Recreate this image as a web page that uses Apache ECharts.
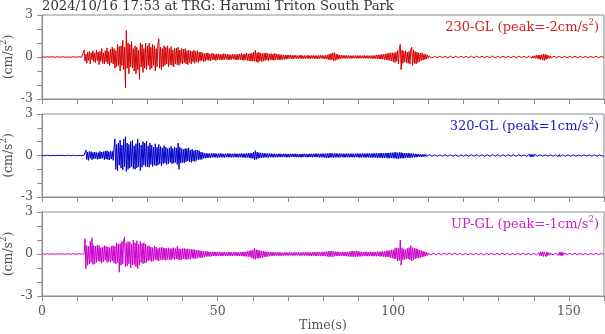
<!DOCTYPE html>
<html>
<head>
<meta charset="utf-8">
<script src="https://cdn.jsdelivr.net/npm/echarts@6/dist/echarts.min.js"></script>
<style>
html,body{margin:0;padding:0;background:#fff;}
#chart{width:605px;height:334px;}
</style>
</head>
<body>
<div id="chart"></div>
<script>
// ---- data (one value every 0.25 s; 20 values per 5 s row) ----
const sampleStep = 0.25;
const titleText = '2024/10/16 17:53 at TRG: Harumi Triton South Park';
const channelNames = ['230-GL', '320-GL', 'UP-GL'];
const channelPeaks = [-2, 1, -1];
const xTickLabels = [0, 50, 100, 150];
const yTickLabels = [-3, 0, 3];

const gl230 = [
0.02,-0.03,0.01,-0.02,0.03,-0.02,0.02,-0.03,0.02,-0.01,0.03,-0.02,0.02,-0.03,0.01,-0.02,0.03,-0.02,0.02,-0.03,
0.02,-0.02,0.03,-0.01,0.02,-0.03,0.02,-0.02,0.03,-0.02,0.01,-0.03,0.02,-0.02,0.03,-0.02,0.02,-0.01,0.03,-0.02,
0.02,-0.03,0.02,-0.02,0.03,-0.02,0.02,-0.03,0.5,-0.3,0.2,-0.45,0.35,-0.25,0.4,-0.5,0.3,-0.2,0.45,-0.35,
0.3,-0.4,0.5,-0.25,0.35,-0.55,0.4,-0.3,0.6,-0.45,0.3,-0.5,0.45,-0.35,0.65,-0.5,0.4,-0.6,0.55,-0.4,
0.7,-0.5,0.6,-0.8,0.45,-0.7,0.9,-0.6,0.75,-1.0,0.8,-0.6,1.2,-0.9,0.7,-2.2,1.9,-0.8,1.0,-1.2,
0.9,-0.7,1.1,-0.8,0.6,-1.0,0.8,-1.2,0.7,-0.9,0.5,-1.6,1.0,-0.7,0.9,-1.1,0.6,-0.8,1.0,-0.9,
0.8,-0.6,1.0,-0.9,0.7,-0.8,0.9,-0.6,0.8,-1.0,0.6,-0.7,0.9,1.3,-0.8,0.7,-0.9,0.6,-0.7,0.8,
-0.6,0.7,-0.5,0.8,-0.7,0.6,-0.55,0.75,-0.6,0.5,-0.7,0.6,-0.5,0.65,-0.55,0.7,-0.6,0.5,-0.45,0.6,
-0.5,0.55,-0.4,0.6,-0.5,0.45,-0.55,0.5,-0.4,0.45,-0.5,0.4,-0.35,0.5,-0.45,0.4,-0.35,0.45,-0.4,0.35,
-0.3,0.35,-0.25,0.3,-0.35,0.25,-0.3,0.28,-0.22,0.3,-0.25,0.22,-0.28,0.25,-0.2,0.27,-0.22,0.2,-0.25,0.22,
-0.2,0.22,-0.18,0.2,-0.22,0.18,-0.2,0.24,-0.18,0.2,-0.16,0.2,-0.22,0.18,-0.2,0.16,-0.18,0.2,-0.15,0.18,
-0.2,0.18,-0.22,0.2,-0.18,0.22,-0.2,0.25,-0.22,0.2,-0.25,0.22,-0.2,0.28,-0.25,0.22,-0.28,0.25,-0.3,0.28,
-0.3,0.35,-0.3,0.5,-0.35,0.3,-0.4,0.35,-0.3,0.28,-0.32,0.25,-0.3,0.28,-0.25,0.3,-0.22,0.25,-0.28,0.22,
-0.2,0.25,-0.22,0.2,-0.25,0.28,-0.2,0.22,-0.18,0.2,-0.22,0.18,-0.2,0.16,-0.18,0.15,-0.17,0.14,-0.16,0.15,
-0.13,0.14,-0.12,0.15,-0.13,0.12,-0.14,0.12,-0.1,0.13,-0.12,0.1,-0.13,0.12,-0.11,0.13,-0.12,0.1,-0.12,0.11,
-0.12,0.1,-0.11,0.13,-0.12,0.1,-0.12,0.11,-0.1,0.12,-0.11,0.1,-0.12,0.11,-0.13,0.1,-0.11,0.12,-0.1,0.11,
-0.12,0.11,-0.13,0.12,-0.15,0.14,-0.18,0.2,-0.22,0.25,-0.2,0.3,-0.28,0.32,-0.25,0.22,-0.2,0.18,-0.15,0.14,
-0.13,0.12,-0.11,0.12,-0.1,0.11,-0.1,0.12,-0.11,0.1,-0.09,0.1,-0.11,0.09,-0.1,0.11,-0.09,0.1,-0.11,0.1,
-0.1,0.11,-0.09,0.1,-0.11,0.1,-0.09,0.11,-0.1,0.09,-0.1,0.11,-0.1,0.09,-0.1,0.11,-0.12,0.1,-0.11,0.12,
-0.12,0.14,-0.13,0.15,-0.14,0.16,-0.15,0.18,-0.16,0.2,-0.18,0.22,-0.2,0.25,-0.22,0.28,-0.25,0.3,-0.28,0.3,
-0.35,0.3,-0.4,0.35,-0.3,0.45,-0.5,0.6,0.9,-0.9,0.5,-0.45,0.4,-0.35,0.45,-0.4,0.35,-0.45,0.4,-0.5,
0.55,0.7,-0.6,0.5,-0.45,0.4,-0.5,0.35,-0.4,0.3,-0.35,0.28,-0.25,0.3,-0.22,0.2,-0.18,0.2,-0.15,0.14,
-0.08,0.07,-0.06,0.08,-0.07,0.06,-0.07,0.05,-0.06,0.07,-0.05,0.06,-0.07,0.05,-0.06,0.06,-0.05,0.07,-0.06,0.05,
-0.06,0.05,-0.07,0.06,-0.05,0.06,-0.05,0.07,-0.06,0.05,-0.06,0.05,-0.07,0.06,-0.05,0.06,-0.05,0.06,-0.07,0.05,
-0.05,0.06,-0.05,0.05,-0.06,0.07,-0.05,0.06,-0.05,0.06,-0.07,0.05,-0.06,0.05,-0.06,0.07,-0.05,0.06,-0.05,0.06,
-0.06,0.05,-0.05,0.06,-0.05,0.06,-0.07,0.05,-0.06,0.05,-0.05,0.06,-0.05,0.07,-0.06,0.05,-0.06,0.05,-0.06,0.05,
-0.05,0.06,-0.05,0.05,-0.06,0.05,-0.05,0.06,-0.04,0.05,-0.06,0.05,-0.05,0.06,-0.05,0.04,-0.05,0.06,-0.05,0.05,
-0.05,0.04,-0.05,0.06,-0.05,0.05,-0.04,0.05,-0.06,0.05,-0.05,0.04,-0.05,0.06,-0.05,0.06,-0.07,0.06,-0.08,0.07,
-0.08,0.09,-0.1,0.12,-0.1,0.13,-0.15,0.14,-0.18,0.16,-0.2,0.22,-0.25,0.2,-0.18,0.15,-0.12,0.1,-0.09,0.08,
-0.07,0.06,-0.05,0.06,-0.05,0.04,-0.05,0.05,-0.04,0.05,-0.05,0.04,-0.05,0.05,-0.04,0.05,-0.04,0.05,-0.05,0.04,
-0.05,0.04,-0.05,0.05,-0.04,0.05,-0.04,0.05,-0.05,0.04,-0.05,0.04,-0.05,0.05,-0.04,0.05,-0.04,0.05,-0.05,0.04,
-0.04,0.05,-0.05,0.04,-0.05,0.04,-0.05,0.05,-0.04,0.05,-0.04,0.05,-0.05,0.04,-0.05,0.04,-0.05,0.05,-0.04,0.05,
-0.04
];

const gl320 = [
0.02,-0.02,0.01,-0.02,0.02,-0.01,0.02,-0.02,0.01,-0.02,0.02,-0.02,0.01,-0.02,0.02,-0.01,0.02,-0.02,0.01,-0.02,
0.02,-0.01,0.02,-0.02,0.01,-0.02,0.02,-0.02,0.01,-0.02,0.02,-0.01,0.02,-0.02,0.01,-0.02,0.02,-0.02,0.01,-0.02,
0.02,-0.02,0.01,-0.02,0.02,-0.02,0.01,-0.02,0.02,-0.02,0.4,-0.3,0.25,-0.35,0.3,-0.2,0.28,-0.3,0.22,-0.25,
0.25,-0.2,0.22,-0.28,0.2,-0.25,0.3,-0.22,0.25,-0.2,0.28,-0.3,0.32,-0.25,0.35,-0.3,0.28,-0.32,0.3,-0.25,
0.3,-0.35,0.5,1.2,-1.0,0.8,-1.1,0.9,-0.7,1.1,-0.9,0.75,-1.05,1.2,-0.8,1.35,-1.15,0.9,-1.0,0.8,
-0.9,1.0,-0.8,1.1,-0.95,0.7,-1.0,0.85,-0.9,1.2,-0.8,0.9,-1.1,0.75,-0.85,1.0,-0.7,0.9,-0.8,1.05,
-0.8,0.7,-0.85,0.9,-0.65,0.75,-0.8,0.6,-0.7,0.85,-0.75,0.6,-0.7,0.8,-0.6,0.65,-0.75,0.55,-0.6,0.7,
-0.55,0.6,-0.65,0.5,-0.6,0.55,-0.5,0.65,-0.6,0.5,-0.55,0.6,-0.5,0.55,-0.65,0.9,-1.0,0.6,-0.55,0.5,
-0.5,0.45,-0.55,0.5,-0.45,0.5,-0.4,0.55,-0.45,0.4,-0.5,0.45,-0.4,0.35,-0.45,0.4,-0.35,0.4,-0.3,0.35,
-0.3,0.25,-0.28,0.22,-0.2,0.18,-0.2,0.16,-0.18,0.15,-0.16,0.14,-0.15,0.16,-0.14,0.15,-0.13,0.15,-0.14,0.13,
-0.15,0.13,-0.14,0.15,-0.12,0.14,-0.13,0.12,-0.15,0.13,-0.12,0.14,-0.13,0.15,-0.12,0.13,-0.14,0.12,-0.13,0.14,
-0.12,0.14,-0.13,0.12,-0.14,0.13,-0.12,0.15,-0.14,0.13,-0.15,0.14,-0.16,0.15,-0.14,0.16,-0.18,0.17,-0.2,0.18,
-0.22,0.25,-0.3,0.35,-0.28,0.25,-0.22,0.2,-0.18,0.2,-0.17,0.16,-0.15,0.17,-0.14,0.15,-0.13,0.14,-0.15,0.13,
-0.12,0.14,-0.13,0.12,-0.14,0.13,-0.12,0.11,-0.13,0.12,-0.11,0.13,-0.12,0.11,-0.12,0.13,-0.11,0.12,-0.13,0.11,
-0.12,0.11,-0.13,0.12,-0.11,0.12,-0.1,0.12,-0.11,0.13,-0.12,0.11,-0.12,0.1,-0.12,0.11,-0.13,0.12,-0.11,0.12,
-0.11,0.12,-0.13,0.11,-0.12,0.13,-0.11,0.12,-0.13,0.12,-0.11,0.13,-0.12,0.14,-0.12,0.13,-0.14,0.12,-0.13,0.14,
-0.13,0.14,-0.15,0.13,-0.16,0.15,-0.18,0.16,-0.15,0.17,-0.14,0.15,-0.16,0.14,-0.13,0.15,-0.14,0.13,-0.14,0.15,
-0.13,0.14,-0.12,0.13,-0.14,0.12,-0.13,0.14,-0.12,0.13,-0.14,0.13,-0.12,0.14,-0.13,0.12,-0.14,0.13,-0.12,0.14,
-0.13,0.14,-0.15,0.13,-0.14,0.15,-0.13,0.14,-0.15,0.14,-0.13,0.15,-0.14,0.16,-0.15,0.14,-0.16,0.15,-0.14,0.16,
-0.15,0.16,-0.17,0.15,-0.16,0.18,-0.16,0.17,-0.18,0.16,-0.17,0.18,-0.16,0.18,-0.2,0.18,-0.19,0.2,-0.18,0.2,
-0.2,0.22,-0.2,0.24,-0.22,0.2,-0.25,0.22,-0.2,0.22,-0.2,0.18,-0.2,0.18,-0.17,0.18,-0.16,0.18,-0.17,0.15,
-0.16,0.15,-0.14,0.15,-0.13,0.12,-0.13,0.11,-0.1,0.11,-0.1,0.09,-0.1,0.08,-0.09,0.08,-0.07,0.08,-0.07,0.06,
-0.05,0.06,-0.05,0.04,-0.05,0.06,-0.05,0.05,-0.04,0.05,-0.06,0.05,-0.05,0.04,-0.05,0.06,-0.05,0.05,-0.04,0.05,
-0.05,0.04,-0.05,0.05,-0.06,0.05,-0.04,0.05,-0.05,0.06,-0.05,0.04,-0.05,0.05,-0.06,0.05,-0.05,0.04,-0.05,0.06,
-0.05,0.05,-0.04,0.05,-0.06,0.05,-0.05,0.04,-0.05,0.05,-0.06,0.05,-0.05,0.06,-0.04,0.05,-0.05,0.04,-0.05,0.05,
-0.04,0.05,-0.05,0.04,-0.05,0.05,-0.06,0.05,-0.04,0.05,-0.05,0.04,-0.05,0.06,-0.05,0.04,-0.05,0.05,-0.04,0.05,
-0.05,0.04,-0.05,0.05,-0.04,0.05,-0.05,0.04,-0.05,0.05,-0.04,0.05,-0.05,0.04,-0.05,0.05,-0.04,0.05,-0.05,0.04,
-0.05,0.04,-0.05,0.05,-0.04,0.05,-0.04,0.05,-0.05,0.04,-0.05,0.05,-0.06,0.07,-0.08,0.09,-0.1,0.09,-0.1,0.08,
-0.07,0.08,-0.06,0.05,-0.05,0.04,-0.05,0.05,-0.04,0.05,-0.04,0.05,-0.05,0.04,-0.05,0.05,-0.04,0.05,-0.04,0.05,
-0.04,0.05,-0.05,0.04,-0.05,0.05,-0.06,0.07,-0.08,0.07,-0.08,0.06,-0.05,0.05,-0.04,0.05,-0.05,0.04,-0.05,0.04,
-0.05,0.04,-0.05,0.05,-0.04,0.05,-0.04,0.05,-0.05,0.04,-0.05,0.04,-0.05,0.05,-0.04,0.05,-0.04,0.05,-0.05,0.04,
-0.04,0.05,-0.05,0.04,-0.05,0.04,-0.05,0.05,-0.04,0.05,-0.04,0.05,-0.05,0.04,-0.05,0.04,-0.05,0.05,-0.04,0.05,
-0.04
];

const glUp = [
0.02,-0.03,0.02,-0.02,0.03,-0.02,0.02,-0.03,0.02,-0.02,0.03,-0.02,0.02,-0.03,0.02,-0.02,0.03,-0.02,0.02,-0.03,
0.02,-0.02,0.03,-0.02,0.02,-0.03,0.02,-0.02,0.03,-0.02,0.02,-0.03,0.02,-0.02,0.03,-0.02,0.02,-0.03,0.02,-0.02,
0.02,-0.02,0.03,-0.02,0.02,-0.03,0.02,-0.02,0.03,1.1,-1.05,0.6,-0.8,0.55,-0.7,0.9,-0.6,1.15,-0.75,0.6,
-0.7,0.55,-0.6,0.65,-0.5,0.6,-0.55,0.45,-0.65,0.5,-0.55,0.6,-0.45,0.55,-0.6,0.5,-0.55,0.45,-0.6,0.55,
-0.5,0.6,-0.65,0.55,-0.7,0.8,-0.6,0.7,-1.3,0.75,-0.8,0.9,-0.7,1.0,1.2,-0.9,0.8,-0.85,0.9,-0.7,
0.85,-1.0,0.7,-0.8,1.0,-0.75,0.8,-0.9,0.95,-1.05,0.7,-0.8,0.9,-0.6,0.75,-0.7,0.8,-0.65,0.7,-0.6,
0.55,-0.5,0.6,-0.45,0.5,-0.55,0.45,-0.5,0.55,-0.4,0.5,-0.45,0.4,-0.5,0.45,-0.4,0.5,-0.42,0.45,-0.4,
0.42,-0.45,0.4,-0.38,0.45,-0.4,0.38,-0.42,0.4,-0.35,0.45,-0.4,0.38,-0.35,0.55,-0.4,0.38,-0.42,0.35,-0.4,
0.38,-0.35,0.4,-0.38,0.35,-0.4,0.38,-0.35,0.32,-0.38,0.35,-0.3,0.33,-0.35,0.3,-0.32,0.28,-0.3,0.27,-0.25,
0.25,-0.28,0.22,-0.25,0.2,-0.22,0.2,-0.18,0.2,-0.17,0.16,-0.18,0.15,-0.16,0.15,-0.14,0.16,-0.15,0.14,-0.15,
0.14,-0.13,0.15,-0.14,0.12,-0.15,0.13,-0.12,0.14,-0.13,0.12,-0.14,0.13,-0.12,0.14,-0.13,0.12,-0.14,0.13,-0.12,
0.14,-0.13,0.12,-0.14,0.13,-0.15,0.14,-0.13,0.15,-0.16,0.15,-0.17,0.16,-0.18,0.2,-0.18,0.22,-0.2,0.25,-0.28,
0.3,-0.35,0.4,-0.38,0.32,-0.3,0.28,-0.32,0.25,-0.28,0.22,-0.25,0.2,-0.22,0.18,-0.2,0.16,-0.18,0.15,-0.16,
0.14,-0.13,0.12,-0.14,0.13,-0.12,0.11,-0.13,0.12,-0.11,0.12,-0.13,0.11,-0.12,0.1,-0.12,0.11,-0.1,0.12,-0.11,
0.1,-0.11,0.12,-0.1,0.11,-0.12,0.1,-0.11,0.12,-0.1,0.11,-0.1,0.12,-0.11,0.1,-0.12,0.11,-0.1,0.12,-0.11,
0.12,-0.11,0.13,-0.12,0.11,-0.13,0.12,-0.14,0.13,-0.12,0.14,-0.13,0.12,-0.14,0.15,-0.13,0.14,-0.15,0.13,-0.14,
0.15,-0.14,0.16,-0.15,0.18,-0.17,0.2,-0.22,0.2,-0.18,0.22,-0.2,0.18,-0.16,0.17,-0.15,0.16,-0.14,0.15,-0.14,
0.13,-0.14,0.15,-0.13,0.14,-0.15,0.14,-0.16,0.15,-0.17,0.16,-0.18,0.2,-0.18,0.22,-0.2,0.18,-0.2,0.22,-0.18,
0.2,-0.18,0.16,-0.17,0.15,-0.16,0.14,-0.15,0.16,-0.14,0.15,-0.16,0.14,-0.15,0.16,-0.15,0.14,-0.16,0.15,-0.14,
0.15,-0.16,0.17,-0.15,0.16,-0.18,0.17,-0.16,0.18,-0.2,0.18,-0.2,0.22,-0.2,0.24,-0.22,0.25,-0.28,0.3,-0.28,
0.3,-0.35,0.4,-0.35,0.45,-0.5,0.4,-0.45,1.0,-0.8,0.45,-0.4,0.35,-0.4,0.3,-0.35,0.4,-0.35,0.45,-0.4,
0.6,-0.5,0.45,-0.4,0.42,-0.35,0.4,-0.3,0.35,-0.3,0.28,-0.25,0.25,-0.22,0.2,-0.18,0.16,-0.15,0.12,-0.1,
0.06,-0.05,0.05,-0.06,0.05,-0.04,0.05,-0.05,0.06,-0.05,0.04,-0.05,0.05,-0.06,0.05,-0.05,0.04,-0.05,0.06,-0.05,
0.05,-0.04,0.05,-0.05,0.06,-0.05,0.04,-0.05,0.05,-0.06,0.05,-0.04,0.05,-0.05,0.06,-0.05,0.05,-0.04,0.05,-0.06,
0.05,-0.05,0.04,-0.05,0.06,-0.05,0.05,-0.04,0.05,-0.05,0.06,-0.05,0.05,-0.06,0.05,-0.04,0.05,-0.05,0.06,-0.05,
0.04,-0.05,0.05,-0.06,0.05,-0.04,0.05,-0.05,0.06,-0.05,0.05,-0.04,0.05,-0.05,0.06,-0.05,0.04,-0.05,0.05,-0.06,
0.05,-0.04,0.05,-0.05,0.04,-0.05,0.06,-0.05,0.05,-0.04,0.05,-0.05,0.04,-0.06,0.05,-0.05,0.04,-0.05,0.05,-0.04,
0.05,-0.05,0.04,-0.05,0.06,-0.05,0.04,-0.05,0.05,-0.04,0.05,-0.05,0.06,-0.05,0.04,-0.05,0.05,-0.06,0.05,-0.05,
0.05,-0.06,0.05,-0.06,0.07,-0.08,0.1,-0.12,0.15,-0.14,0.16,-0.18,0.15,0.2,-0.18,0.15,-0.12,0.1,-0.08,0.07,
-0.06,0.05,-0.06,0.05,-0.05,0.06,-0.07,0.08,-0.1,0.12,-0.1,0.14,-0.15,0.12,-0.08,0.07,-0.06,0.05,-0.05,0.04,
-0.05,0.04,-0.05,0.05,-0.04,0.05,-0.04,0.05,-0.05,0.04,-0.05,0.04,-0.05,0.05,-0.04,0.05,-0.04,0.05,-0.05,0.04,
-0.04,0.05,-0.05,0.04,-0.05,0.04,-0.05,0.05,-0.04,0.05,-0.04,0.05,-0.05,0.04,-0.05,0.04,-0.05,0.05,-0.04,0.05,
-0.04
];

// ---- chart ----
const traces = [gl230, gl320, glUp];
const colors = ['#d40000', '#0000cc', '#cc00cc'];
const labelColors = ['#d42020', '#2020cc', '#cc20cc'];
const FONT = '"DejaVu Serif", serif';
const AXIS = '#8c8c8c';
const TXT = '#555';
const grids = [
  {left: 42, right: 1, top: 15, height: 84},
  {left: 42, right: 1, top: 114, height: 83},
  {left: 42, right: 1, top: 212, height: 84}
];
const supRich = (color, size) => ({
  n: {fontFamily: FONT, fontSize: size, fontWeight: 'normal', color: color, lineHeight: 16, verticalAlign: 'bottom'},
  s: {fontFamily: FONT, fontSize: 8.5, fontWeight: 'normal', color: color, lineHeight: 16, verticalAlign: 'top'}
});

const option = {
  animation: false,
  backgroundColor: '#fff',
  title: [
    {text: titleText, left: 42, top: 0, padding: 0,
     textStyle: {fontFamily: FONT, fontSize: 13.2, fontWeight: 'normal', color: '#333'}}
  ].concat(channelNames.map((nm, k) => ({
    text: '{n|' + nm + ' (peak=' + channelPeaks[k] + 'cm/s}{s|2}{n|)}',
    right: 6, top: grids[k].top + 3, padding: 0,
    textStyle: {fontWeight: 'normal', rich: supRich(labelColors[k], 13)}
  }))),
  grid: grids.map(g => Object.assign({show: true, borderColor: AXIS, borderWidth: 1,
    backgroundColor: 'transparent', containLabel: false, outerBoundsMode: 'none'}, g)),
  xAxis: grids.map((g, k) => ({
    type: 'value', gridIndex: k, min: 0, max: 160, interval: 10,
    axisLine: {show: true, onZero: false, lineStyle: {color: AXIS}},
    axisTick: {show: true, length: 5, lineStyle: {color: AXIS}},
    splitLine: {show: false},
    axisLabel: {show: k === 2, margin: 9, color: TXT, fontFamily: FONT, fontSize: 12.5,
      formatter: v => xTickLabels.indexOf(v) >= 0 ? String(v) : ''},
    name: k === 2 ? 'Time(s)' : '', nameLocation: 'middle', nameGap: 23,
    nameTextStyle: {color: TXT, fontFamily: FONT, fontSize: 12.5}
  })),
  yAxis: grids.map((g, k) => ({
    type: 'value', gridIndex: k, min: -3, max: 3, interval: 1,
    axisLine: {show: true, onZero: false, lineStyle: {color: AXIS}},
    axisTick: {show: true, length: 5, lineStyle: {color: AXIS}},
    splitLine: {show: false},
    axisLabel: {margin: 9, color: TXT, fontFamily: FONT, fontSize: 12.5,
      formatter: v => yTickLabels.indexOf(v) >= 0 ? String(v) : ''},
    name: '{n|(cm/s}{s|2}{n|)}', nameLocation: 'middle', nameGap: 27, nameRotate: 90,
    nameMoveOverlap: false,
    nameTextStyle: {fontWeight: 'normal', rich: supRich(TXT, 12.5)}
  })),
  series: traces.map((arr, k) => ({
    type: 'line', xAxisIndex: k, yAxisIndex: k,
    data: arr.map((v, i) => [i * sampleStep, v]),
    showSymbol: false, symbol: 'none', sampling: false,
    lineStyle: {color: colors[k], width: 1},
    clip: true
  }))
};

const chart = echarts.init(document.getElementById('chart'), null, {renderer: 'canvas'});
chart.setOption(option);
</script>
</body>
</html>
